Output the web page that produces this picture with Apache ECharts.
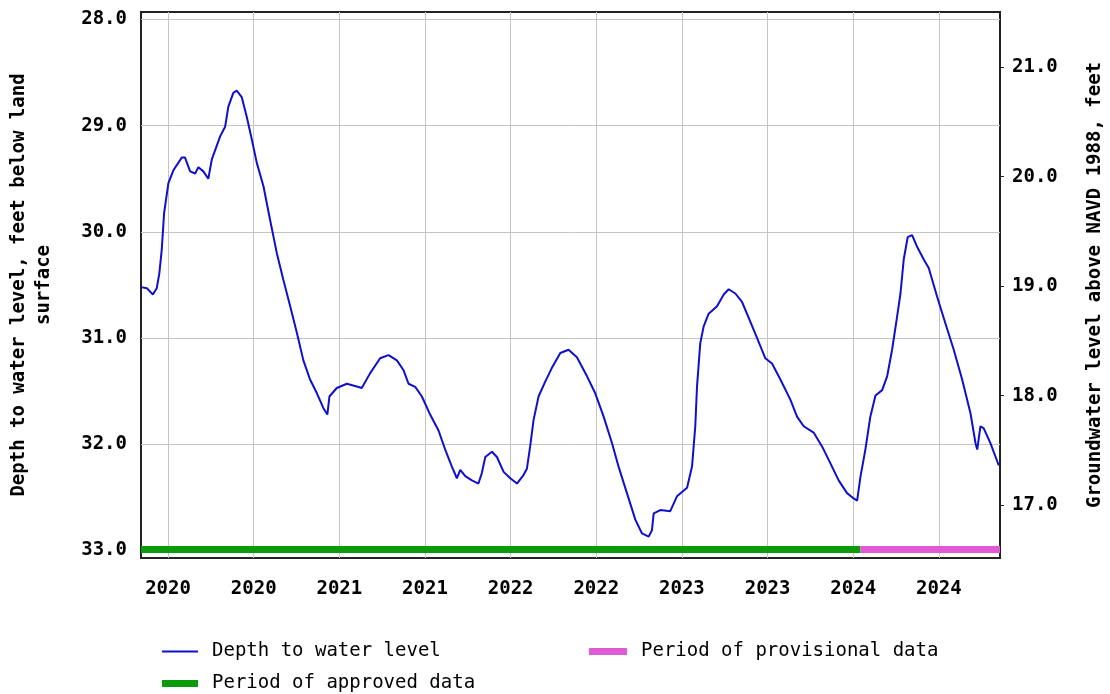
<!DOCTYPE html>
<html>
<head>
<meta charset="utf-8">
<title>Groundwater level</title>
<script src="https://cdn.jsdelivr.net/npm/echarts@6/dist/echarts.min.js"></script>
<style>
  html, body { margin: 0; padding: 0; background: #fff; }
  #chart { width: 1110px; height: 694px; }
</style>
</head>
<body>
<div id="chart"></div>
<script>
// decimal years
var years = [
  2019.842, 2019.876, 2019.911, 2019.934, 2019.949, 2019.963, 2019.977, 2020.002, 2020.031, 2020.080,
  2020.099, 2020.129, 2020.158, 2020.177, 2020.206, 2020.235, 2020.255, 2020.304, 2020.333, 2020.352,
  2020.381, 2020.401, 2020.430, 2020.460, 2020.489, 2020.518, 2020.557, 2020.596, 2020.635, 2020.673,
  2020.713, 2020.752, 2020.790, 2020.829, 2020.869, 2020.907, 2020.930, 2020.942, 2020.985, 2021.044,
  2021.112, 2021.131, 2021.180, 2021.238, 2021.287, 2021.336, 2021.374, 2021.404, 2021.443, 2021.482,
  2021.530, 2021.579, 2021.618, 2021.657, 2021.686, 2021.706, 2021.735, 2021.774, 2021.812, 2021.832,
  2021.852, 2021.891, 2021.920, 2021.959, 2021.998, 2022.037, 2022.075, 2022.095, 2022.114, 2022.134,
  2022.163, 2022.202, 2022.241, 2022.290, 2022.338, 2022.387, 2022.446, 2022.494, 2022.543, 2022.592,
  2022.630, 2022.679, 2022.728, 2022.767, 2022.806, 2022.825, 2022.835, 2022.874, 2022.932, 2022.971,
  2023.030, 2023.059, 2023.078, 2023.088, 2023.107, 2023.127, 2023.156, 2023.205, 2023.244, 2023.273,
  2023.312, 2023.351, 2023.390, 2023.439, 2023.487, 2023.526, 2023.575, 2023.633, 2023.672, 2023.711,
  2023.769, 2023.818, 2023.867, 2023.915, 2023.964, 2024.003, 2024.023, 2024.042, 2024.071, 2024.100,
  2024.130, 2024.169, 2024.198, 2024.227, 2024.256, 2024.276, 2024.295, 2024.318, 2024.344, 2024.373,
  2024.412, 2024.441, 2024.490, 2024.538, 2024.587, 2024.636, 2024.685, 2024.714, 2024.724, 2024.743,
  2024.762, 2024.801, 2024.850
];
// depth to water level, feet below land surface
var depths = [
  30.52, 30.53, 30.59, 30.53, 30.39, 30.17, 29.82, 29.54, 29.42, 29.30,
  29.30, 29.43, 29.45, 29.39, 29.43, 29.50, 29.32, 29.10, 29.01, 28.82,
  28.69, 28.67, 28.73, 28.92, 29.13, 29.35, 29.57, 29.89, 30.20, 30.45,
  30.70, 30.95, 31.21, 31.39, 31.52, 31.66, 31.72, 31.55, 31.47, 31.43,
  31.46, 31.47, 31.33, 31.19, 31.16, 31.21, 31.30, 31.43, 31.46, 31.55,
  31.72, 31.87, 32.05, 32.21, 32.32, 32.24, 32.30, 32.34, 32.37, 32.27,
  32.12, 32.07, 32.12, 32.26, 32.32, 32.37, 32.29, 32.23, 32.02, 31.77,
  31.55, 31.41, 31.28, 31.14, 31.11, 31.18, 31.36, 31.52, 31.74, 31.99,
  32.21, 32.46, 32.71, 32.84, 32.87, 32.81, 32.65, 32.62, 32.63, 32.49,
  32.41, 32.21, 31.83, 31.46, 31.05, 30.89, 30.77, 30.70, 30.59, 30.54,
  30.58, 30.66, 30.81, 31.00, 31.19, 31.24, 31.39, 31.58, 31.74, 31.83,
  31.89, 32.02, 32.18, 32.34, 32.46, 32.51, 32.53, 32.31, 32.05, 31.74,
  31.54, 31.49, 31.36, 31.11, 30.80, 30.58, 30.26, 30.05, 30.03, 30.14,
  30.26, 30.34, 30.61, 30.86, 31.11, 31.39, 31.71, 31.99, 32.05, 31.83,
  31.85, 31.99, 32.20
];

var approvedPeriod = [2019.842, 2024.042];
var provisionalPeriod = [2024.042, 2024.857];
var periodDepth = 32.99;

var xTicks = [2020, 2020.5, 2021, 2021.5, 2022, 2022.5, 2023, 2023.5, 2024, 2024.5];
var depthTicks = [28, 29, 30, 31, 32, 33];
var levelTicks = [17, 18, 19, 20, 21];

var FONT = 'DejaVu Sans Mono';
var legendText = { fontFamily: FONT, fontSize: 19, color: '#000', padding: [0, 0, 0, 9] };

var lineData = [];
for (var i = 0; i < years.length; i++) {
  lineData.push([years[i], depths[i]]);
}

var chart = echarts.init(document.getElementById('chart'));

chart.setOption({
  animation: false,
  grid: {
    left: 141, right: 110, top: 12, bottom: 136,
    show: true,
    borderColor: '#222',
    borderWidth: 2,
    outerBoundsMode: 'none'
  },
  legend: [
    {
      data: [{ name: 'Depth to water level', icon: 'rect' }],
      left: 157, top: 637,
      itemWidth: 36, itemHeight: 2,
      textStyle: legendText
    },
    {
      data: [{ name: 'Period of provisional data', icon: 'rect' }],
      left: 584, top: 637,
      itemWidth: 38, itemHeight: 7,
      textStyle: legendText
    },
    {
      data: [{ name: 'Period of approved data', icon: 'rect' }],
      left: 157, top: 669,
      itemWidth: 36, itemHeight: 7,
      textStyle: legendText
    }
  ],
  xAxis: {
    type: 'value',
    min: 2019.842,
    max: 2024.857,
    splitNumber: 10,
    axisLine: { show: false },
    axisTick: { show: false, customValues: xTicks },
    axisLabel: {
      customValues: xTicks,
      margin: 22,
      fontFamily: FONT, fontSize: 19, fontWeight: 'bold', color: '#000',
      formatter: function (v) { return String(Math.floor(v + 1e-6)); }
    },
    splitLine: { show: true, lineStyle: { color: '#c4c4c4', width: 1 } }
  },
  yAxis: [
    {
      type: 'value',
      inverse: true,
      min: 27.929,
      max: 33.071,
      position: 'left',
      name: 'Depth to water level, feet below land\nsurface',
      nameLocation: 'middle',
      nameRotate: 90,
      nameGap: 84,
      nameTextStyle: { fontFamily: FONT, fontSize: 19, fontWeight: 'bold', color: '#000', lineHeight: 25 },
      axisLine: { show: false },
      axisTick: { show: false, customValues: depthTicks },
      axisLabel: {
        customValues: depthTicks,
        margin: 14,
        fontFamily: FONT, fontSize: 19, fontWeight: 'bold', color: '#000',
        formatter: function (v) { return v.toFixed(1); }
      },
      splitLine: { show: true, lineStyle: { color: '#c4c4c4', width: 1 } }
    },
    {
      type: 'value',
      min: 16.516,
      max: 21.505,
      position: 'right',
      name: 'Groundwater level above NAVD 1988, feet',
      nameLocation: 'middle',
      nameRotate: 90,
      nameGap: 86,
      nameTextStyle: { fontFamily: FONT, fontSize: 19, fontWeight: 'bold', color: '#000' },
      axisLine: { show: false },
      axisTick: { show: true, inside: false, length: 4, customValues: levelTicks, lineStyle: { color: '#222' } },
      axisLabel: {
        customValues: levelTicks,
        margin: 12,
        fontFamily: FONT, fontSize: 19, fontWeight: 'bold', color: '#000',
        formatter: function (v) { return v.toFixed(1); }
      },
      splitLine: { show: false }
    }
  ],
  series: [
    {
      name: 'Period of approved data',
      type: 'line',
      yAxisIndex: 0,
      symbol: 'none',
      lineStyle: { color: '#0a9a0a', width: 7 },
      itemStyle: { color: '#0a9a0a' },
      data: [[approvedPeriod[0], periodDepth], [approvedPeriod[1], periodDepth]],
      z: 3
    },
    {
      name: 'Period of provisional data',
      type: 'line',
      yAxisIndex: 0,
      symbol: 'none',
      lineStyle: { color: '#e05ad6', width: 7 },
      itemStyle: { color: '#e05ad6' },
      data: [[provisionalPeriod[0], periodDepth], [provisionalPeriod[1], periodDepth]],
      z: 3
    },
    {
      name: 'Depth to water level',
      type: 'line',
      yAxisIndex: 0,
      symbol: 'none',
      lineStyle: { color: '#1010cc', width: 2 },
      itemStyle: { color: '#1010cc' },
      data: lineData,
      z: 4
    }
  ]
});
</script>
</body>
</html>
